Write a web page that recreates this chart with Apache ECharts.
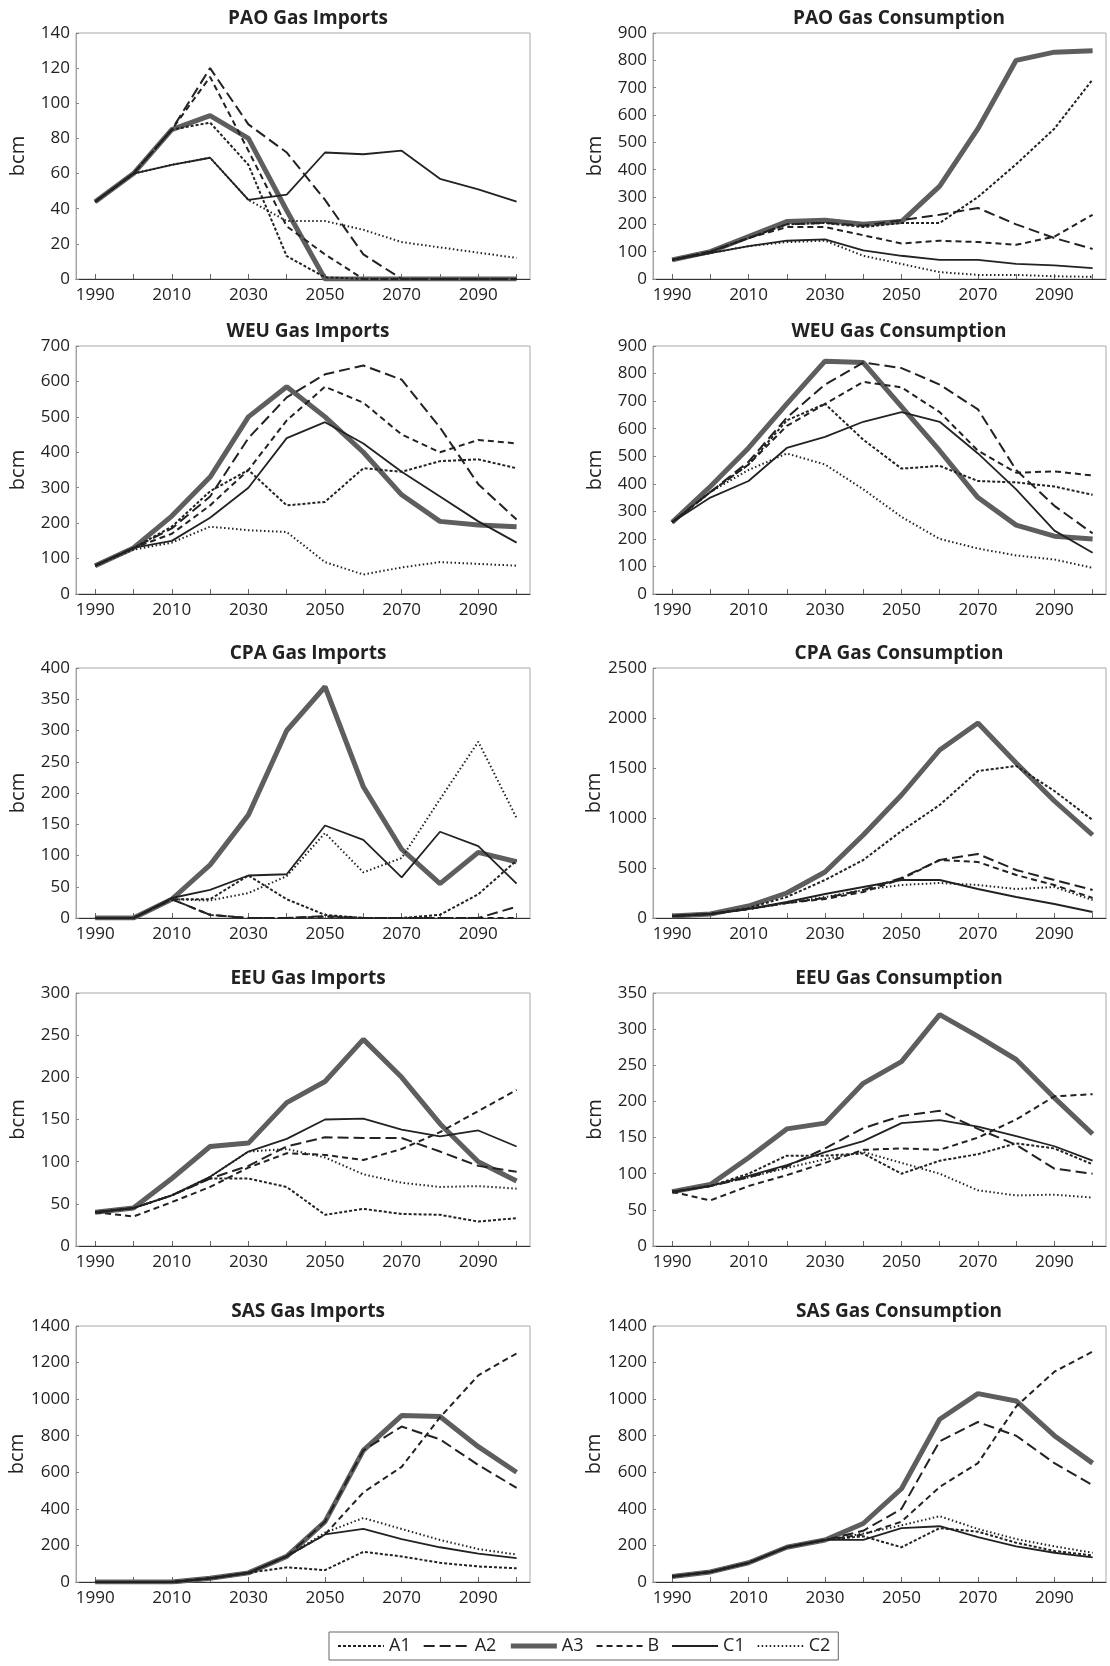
<!DOCTYPE html>
<html>
<head>
<meta charset="utf-8">
<script src="https://cdn.jsdelivr.net/npm/echarts@6.0.0/dist/echarts.min.js"></script>
<style>
  html, body { margin: 0; padding: 0; background: #fff; }
  #main { width: 1110px; height: 1666px; }
</style>
</head>
<body>
<div id="main"></div>
<script>
// years of the scenario runs
var years = [1990, 2000, 2010, 2020, 2030, 2040, 2050, 2060, 2070, 2080, 2090, 2100];
var yearLabels = [1990, 2010, 2030, 2050, 2070, 2090];
var scenarios = ['A1', 'A2', 'A3', 'B', 'C1', 'C2'];

// values in bcm, one small table per panel
var paoImports = {
    A1: [44, 60, 85, 89, 65, 13, 1, 0, 0, 0, 0, 0],
    A2: [44, 60, 85, 120, 88, 72, 45, 14, 0, 0, 0, 0],
    A3: [44, 60, 85, 93, 80, 39, 0, 0, 0, 0, 0, 0],
    B:  [44, 60, 85, 115, 73, 30, 14, 0, 0, 0, 0, 0],
    C1: [44, 60, 65, 69, 45, 48, 72, 71, 73, 57, 51, 44],
    C2: [44, 60, 65, 69, 45, 33, 33, 28, 21, 18, 15, 12]
};
var paoConsumption = {
    A1: [70, 100, 150, 200, 205, 190, 205, 205, 300, 420, 550, 730],
    A2: [70, 100, 150, 200, 205, 195, 215, 235, 260, 200, 150, 110],
    A3: [70, 100, 155, 210, 215, 200, 210, 340, 550, 800, 830, 835],
    B:  [70, 100, 150, 190, 190, 160, 130, 140, 135, 125, 155, 235],
    C1: [70, 95, 120, 140, 145, 105, 85, 70, 70, 55, 50, 40],
    C2: [70, 95, 120, 135, 140, 85, 55, 25, 15, 15, 10, 8]
};
var weuImports = {
    A1: [80, 130, 190, 290, 350, 250, 260, 355, 345, 375, 380, 355],
    A2: [80, 130, 185, 275, 440, 555, 620, 645, 605, 470, 310, 210],
    A3: [80, 130, 220, 330, 500, 585, 500, 400, 280, 205, 195, 190],
    B:  [80, 130, 170, 250, 350, 490, 585, 540, 450, 400, 435, 425],
    C1: [80, 130, 150, 215, 300, 440, 485, 425, 345, 275, 205, 145],
    C2: [80, 125, 145, 190, 180, 175, 90, 55, 75, 90, 85, 80]
};
var weuConsumption = {
    A1: [260, 370, 470, 630, 690, 560, 455, 465, 410, 405, 390, 360],
    A2: [260, 370, 480, 640, 760, 840, 820, 760, 670, 450, 320, 220],
    A3: [260, 390, 530, 690, 845, 840, 680, 520, 350, 250, 210, 200],
    B:  [260, 370, 470, 610, 690, 770, 750, 660, 520, 440, 445, 430],
    C1: [260, 350, 410, 530, 570, 625, 660, 625, 510, 380, 230, 150],
    C2: [260, 370, 450, 510, 470, 380, 280, 200, 165, 140, 125, 95]
};
var cpaImports = {
    A1: [0, 0, 30, 30, 68, 30, 5, 0, 0, 5, 38, 92],
    A2: [0, 0, 30, 5, 0, 0, 3, 0, 0, 0, 0, 18],
    A3: [0, 0, 30, 85, 165, 300, 370, 210, 110, 55, 105, 90],
    B:  [0, 0, 30, 5, 0, 0, 2, 0, 0, 0, 0, 0],
    C1: [0, 0, 32, 45, 68, 70, 148, 125, 65, 138, 115, 55],
    C2: [0, 0, 30, 28, 40, 67, 136, 73, 96, 190, 282, 160]
};
var cpaConsumption = {
    A1: [20, 40, 100, 210, 380, 580, 870, 1130, 1470, 1520, 1270, 980],
    A2: [20, 40, 90, 150, 200, 280, 400, 580, 640, 480, 380, 280],
    A3: [20, 40, 120, 250, 460, 830, 1230, 1680, 1950, 1550, 1170, 830],
    B:  [20, 40, 90, 150, 190, 260, 390, 580, 560, 430, 330, 200],
    C1: [20, 40, 90, 160, 240, 310, 380, 380, 290, 210, 140, 60],
    C2: [20, 40, 90, 150, 210, 280, 330, 350, 330, 290, 310, 180]
};
var eeuImports = {
    A1: [40, 45, 60, 80, 80, 70, 37, 44, 38, 37, 29, 33],
    A2: [40, 45, 60, 80, 95, 118, 129, 128, 128, 112, 95, 88],
    A3: [40, 45, 80, 118, 122, 170, 195, 245, 200, 145, 100, 77],
    B:  [40, 35, 52, 70, 93, 110, 108, 102, 115, 135, 160, 185],
    C1: [40, 45, 60, 82, 112, 127, 150, 151, 138, 130, 137, 118],
    C2: [40, 45, 60, 82, 112, 115, 105, 85, 75, 70, 71, 68]
};
var eeuConsumption = {
    A1: [75, 83, 100, 125, 125, 128, 100, 118, 127, 142, 135, 113],
    A2: [75, 83, 95, 110, 135, 163, 180, 187, 162, 140, 107, 100],
    A3: [75, 85, 122, 162, 170, 225, 255, 320, 290, 258, 205, 155],
    B:  [75, 63, 83, 98, 115, 133, 135, 133, 150, 175, 207, 210],
    C1: [75, 83, 97, 112, 130, 145, 170, 174, 165, 152, 138, 118],
    C2: [75, 83, 95, 108, 120, 130, 115, 100, 77, 70, 71, 67]
};
var sasImports = {
    A1: [0, 0, 0, 20, 50, 80, 65, 165, 140, 105, 85, 75],
    A2: [0, 0, 0, 20, 50, 140, 330, 720, 850, 780, 640, 515],
    A3: [0, 0, 0, 20, 50, 140, 330, 720, 910, 905, 740, 600],
    B:  [0, 0, 0, 20, 50, 140, 260, 490, 630, 900, 1130, 1250],
    C1: [0, 0, 0, 20, 50, 140, 260, 290, 235, 190, 155, 130],
    C2: [0, 0, 0, 20, 50, 140, 270, 350, 290, 230, 180, 150]
};
var sasConsumption = {
    A1: [30, 55, 105, 190, 230, 250, 190, 295, 275, 215, 170, 145],
    A2: [30, 55, 105, 190, 230, 280, 400, 770, 875, 800, 650, 530],
    A3: [30, 55, 105, 190, 230, 320, 510, 890, 1030, 990, 800, 650],
    B:  [30, 55, 105, 190, 230, 260, 330, 520, 650, 960, 1150, 1260],
    C1: [30, 55, 105, 190, 230, 230, 295, 305, 245, 195, 160, 135],
    C2: [30, 55, 105, 190, 230, 265, 310, 360, 290, 235, 195, 160]
};

var panels = [
    {title: 'PAO Gas Imports',     data: paoImports,     max: 140,  interval: 20},
    {title: 'PAO Gas Consumption', data: paoConsumption, max: 900,  interval: 100},
    {title: 'WEU Gas Imports',     data: weuImports,     max: 700,  interval: 100},
    {title: 'WEU Gas Consumption', data: weuConsumption, max: 900,  interval: 100},
    {title: 'CPA Gas Imports',     data: cpaImports,     max: 400,  interval: 50},
    {title: 'CPA Gas Consumption', data: cpaConsumption, max: 2500, interval: 500},
    {title: 'EEU Gas Imports',     data: eeuImports,     max: 300,  interval: 50},
    {title: 'EEU Gas Consumption', data: eeuConsumption, max: 350,  interval: 50},
    {title: 'SAS Gas Imports',     data: sasImports,     max: 1400, interval: 200},
    {title: 'SAS Gas Consumption', data: sasConsumption, max: 1400, interval: 200}
];

// layout: rows [top, height], columns [left, width, title center]
var rows = [[33, 246], [346, 248], [668, 250], [993, 253], [1326, 256]];
var cols = [[76, 454, 303], [653, 453, 894]];

var ink = '#222';
var lineStyles = {
    A1: {color: ink, width: 2, type: [3, 2]},
    A2: {color: ink, width: 2, type: [11, 5]},
    A3: {color: '#5e5e5e', width: 5, type: 'solid'},
    B:  {color: ink, width: 2, type: [6, 4]},
    C1: {color: ink, width: 1.8, type: 'solid'},
    C2: {color: ink, width: 2, type: [1.5, 2.5]}
};
var drawOrder = ['A3', 'A1', 'A2', 'B', 'C1', 'C2'];

function plain(v) { return String(v); }

var font = '"Open Sans", "Noto Sans", sans-serif';
var titles = [], grids = [], xAxes = [], yAxes = [], series = [];

panels.forEach(function (p, i) {
    var r = rows[Math.floor(i / 2)];
    var c = cols[i % 2];
    titles.push({
        text: p.title,
        left: c[2],
        top: r[0] - 29,
        textAlign: 'center',
        textStyle: {fontSize: 19, fontWeight: 'bold', color: ink, fontFamily: font}
    });
    grids.push({
        left: c[0], top: r[0], width: c[1], height: r[1],
        show: true, borderColor: '#aaa', borderWidth: 1
    });
    xAxes.push({
        gridIndex: i,
        type: 'value',
        min: 1985,
        max: 2103.5,
        axisLine: {lineStyle: {color: '#333', width: 1}},
        axisTick: {show: true, inside: true, length: 5, customValues: years, lineStyle: {color: '#666'}},
        axisLabel: {customValues: yearLabels, formatter: plain, fontSize: 17, color: ink, margin: 8, fontFamily: font},
        splitLine: {show: false}
    });
    yAxes.push({
        gridIndex: i,
        type: 'value',
        min: 0,
        max: p.max,
        interval: p.interval,
        name: 'bcm',
        nameLocation: 'middle',
        nameGap: 48,
        nameTextStyle: {fontSize: 20, color: ink, fontFamily: font},
        axisLine: {show: true, lineStyle: {color: '#999', type: 'dotted'}},
        axisTick: {show: true, inside: true, length: 3, lineStyle: {color: '#888'}},
        axisLabel: {formatter: plain, fontSize: 17, color: ink, margin: 6, fontFamily: font},
        splitLine: {show: false}
    });
    drawOrder.forEach(function (s) {
        series.push({
            name: s,
            type: 'line',
            xAxisIndex: i,
            yAxisIndex: i,
            showSymbol: false,
            symbol: 'none',
            color: lineStyles[s].color,
            itemStyle: {color: lineStyles[s].color},
            lineStyle: lineStyles[s],
            data: years.map(function (y, k) { return [y, p.data[s][k]]; })
        });
    });
});

var legendItems = scenarios.map(function (s) {
    return {name: s, lineStyle: {width: lineStyles[s].width, color: lineStyles[s].color, type: lineStyles[s].type}};
});

var chart = echarts.init(document.getElementById('main'));
chart.setOption({
    animation: false,
    title: titles,
    grid: grids,
    xAxis: xAxes,
    yAxis: yAxes,
    legend: {
        data: legendItems,
        left: 329,
        top: 1632,
        orient: 'horizontal',
        itemWidth: 46,
        itemHeight: 14,
        itemGap: 12,
        padding: [5, 8],
        borderColor: '#666',
        borderWidth: 1,
        selectedMode: false,
        itemStyle: {opacity: 0},
        textStyle: {fontSize: 18, color: ink, fontFamily: font}
    },
    series: series
});
</script>
</body>
</html>
